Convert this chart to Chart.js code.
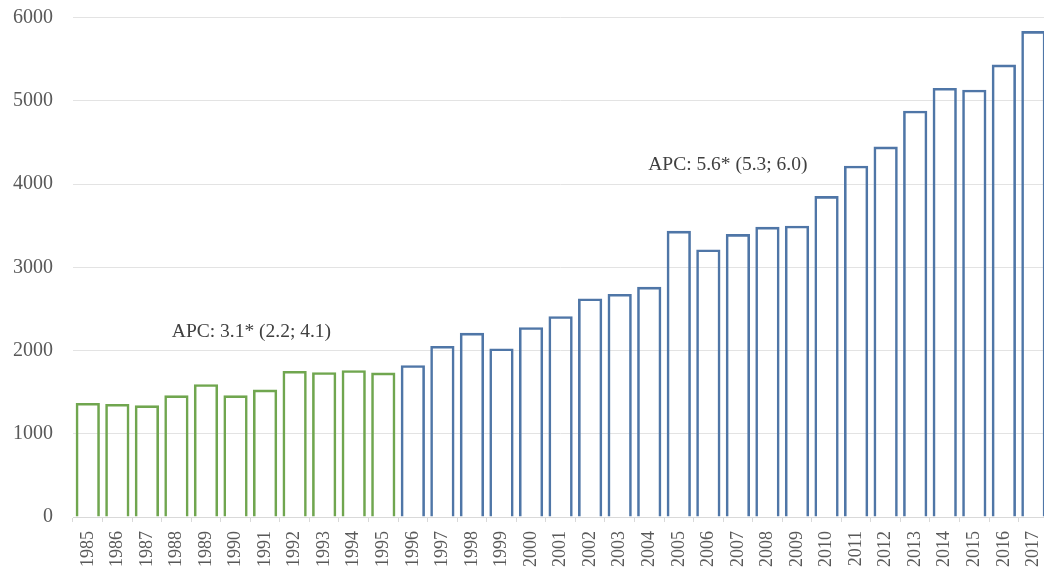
<!DOCTYPE html>
<html>
<head>
<meta charset="UTF-8">
<title>APC chart</title>
<script src="https://cdn.jsdelivr.net/npm/chart.js"></script>
<style>
  html, body { margin: 0; padding: 0; background: #fff; overflow: hidden; }
  #wrap { width: 1064px; height: 573px; }
</style>
</head>
<body>
<div id="wrap"><canvas id="bar"></canvas></div>
<script>
const years = ["1985","1986","1987","1988","1989","1990","1991","1992","1993","1994","1995",
  "1996","1997","1998","1999","2000","2001","2002","2003","2004","2005","2006",
  "2007","2008","2009","2010","2011","2012","2013","2014","2015","2016","2017"];
const counts = [1370,1358,1342,1462,1595,1462,1531,1755,1739,1763,1735,
  1823,2055,2212,2024,2280,2412,2625,2680,2765,3437,3214,
  3398,3486,3500,3855,4220,4449,4881,5154,5132,5435,5837];
const firstPeriodEnd = 1995;
const yTicks = [0,1000,2000,3000,4000,5000,6000];

// APC labels, placed in data coordinates (category index, value)
const notes = [
  { text: "APC: 3.1* (2.2; 4.1)", x: 5.54, y: 2224 },
  { text: "APC: 5.6* (5.3; 6.0)", x: 21.66, y: 4227 }
];

const green = "#70a64f";
const blue = "#4f76a7";
const colors = years.map(y => Number(y) <= firstPeriodEnd ? green : blue);
const serif = "'Liberation Serif', 'Times New Roman', serif";

const notePlugin = {
  id: "notes",
  afterDatasetsDraw(chart) {
    const ctx = chart.ctx;
    const xs = chart.scales.x, ys = chart.scales.y;
    ctx.save();
    ctx.font = "19.5px " + serif;
    ctx.fillStyle = "#404040";
    ctx.textAlign = "center";
    ctx.textBaseline = "middle";
    notes.forEach(n => {
      ctx.fillText(n.text, xs.getPixelForValue(n.x), ys.getPixelForValue(n.y));
    });
    ctx.restore();
  }
};

new Chart(document.getElementById("bar"), {
  type: "bar",
  data: {
    labels: years,
    datasets: [{
      data: counts,
      backgroundColor: "rgba(255,255,255,0)",
      borderColor: colors,
      borderWidth: 2.6,
      barPercentage: 0.82,
      categoryPercentage: 1
    }]
  },
  options: {
    responsive: true,
    maintainAspectRatio: false,
    animation: false,
    layout: { padding: { top: 17.5, right: 0, left: 0, bottom: 0 } },
    plugins: { legend: { display: false }, tooltip: { enabled: false } },
    scales: {
      x: {
        afterFit: s => { s.height = 56; },
        grid: { display: true, drawOnChartArea: false, color: "#d9d9d9", tickLength: 5, offset: true },
        border: { color: "#d9d9d9" },
        ticks: {
          autoSkip: false, minRotation: 90, maxRotation: 90, padding: 9,
          color: "#595959", font: { family: serif, size: 18 }
        }
      },
      y: {
        min: 0, max: 6000,
        afterBuildTicks: s => { s.ticks = yTicks.map(v => ({ value: v })); },
        afterFit: s => { s.width = 73; s.paddingTop = 0; s.paddingBottom = 0; },
        grid: { color: "#e3e3e3", drawTicks: false },
        border: { display: false },
        ticks: {
          padding: 20, color: "#595959", font: { family: serif, size: 20 },
          callback: v => String(v)
        }
      }
    }
  },
  plugins: [notePlugin]
});
</script>
</body>
</html>
